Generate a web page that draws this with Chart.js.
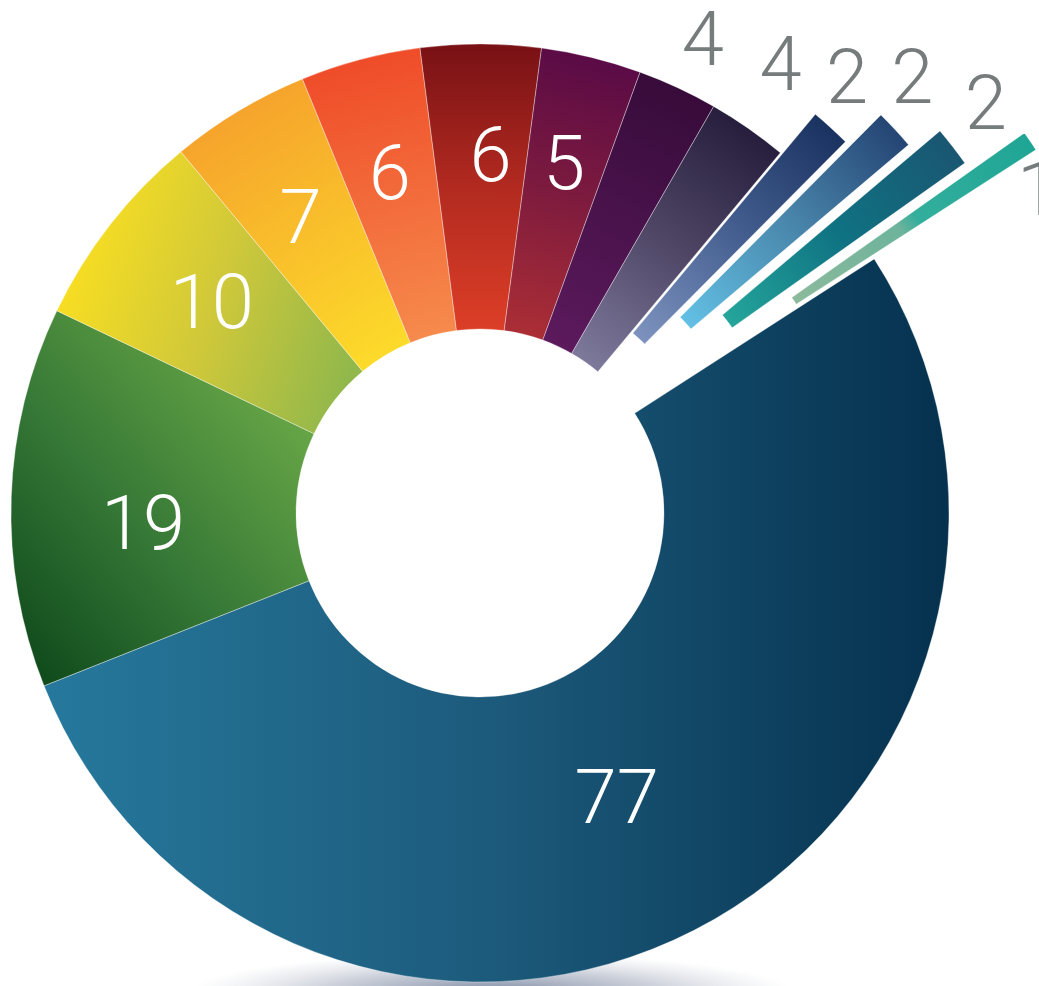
<!DOCTYPE html>
<html>
<head>
<meta charset="utf-8">
<style>
  html, body { margin: 0; padding: 0; background: #ffffff; }
  #wrap { width: 1039px; height: 986px; position: relative; overflow: hidden; }
  canvas { display: block; }
</style>
<script src="https://cdn.jsdelivr.net/npm/chart.js@4/dist/chart.umd.min.js"></script>
</head>
<body>
<div id="wrap"><canvas id="chart" width="1039" height="986"></canvas></div>
<script>
// ---------- DATA ----------
const categories = ['Category 1', 'Category 2', 'Category 3', 'Category 4', 'Category 5', 'Category 6', 'Category 7',
                    'Category 8', 'Category 9', 'Category 10', 'Category 11', 'Category 12', 'Category 13'];
const values = [77, 19, 10, 7, 6, 6, 5, 4, 4, 2, 2, 2, 1];
const valueLabels = values.map(v => String(v));

// ---------- STYLE ----------
// base (fallback) colours
const baseColors = ['#1b5779', '#3b7a36', '#c9cc38', '#f8bf2b', '#f26a37', '#b02a20', '#7f1a3e',
                    '#481345', '#4f4a6a', '#4a6396', '#4a86ad', '#177a85', '#4fb09b'];
// gradient definitions: mode 'h' = horizontal across ring, 'lin' = fixed line (relative to centre, in radii),
// 'rad' = along slice mid-angle from inner to outer edge
const gradModes = ['h', 'lin', 'lin', 'rad', 'rad', 'rad', 'rad', 'rad', 'rad', 'rad', 'rad', 'rad', 'rad'];
const gradLines = [null, [-0.99, 0.38, -0.36, -0.18], [-0.90, -0.45, -0.30, -0.24], null, null, null, null, null, null, null, null, null, null];
const gradStops = [
  [[0, '#267b9f'], [0.5, '#1d5b7c'], [1, '#05314e']],
  [[0, '#0a4418'], [0.5, '#357736'], [1, '#67a646']],
  [[0, '#f8de22'], [0.5, '#cfc83a'], [1, '#92b84b']],
  [[0, '#fcda2a'], [1, '#f6a42c']],
  [[0, '#f68a4c'], [1, '#ef4c29']],
  [[0, '#dc3e27'], [0.5, '#b22a20'], [1, '#781115']],
  [[0, '#ab2e35'], [0.5, '#7e1b3e'], [1, '#5a0b46']],
  [[0, '#5c1a5d'], [1, '#370b3a']],
  [[0, '#7d799b'], [0.5, '#504767'], [1, '#261e3c']],
  [[0, '#7d92be'], [0.5, '#445f90'], [1, '#1a3260']],
  [[0, '#62c0e4'], [0.5, '#4a87ac'], [1, '#254574']],
  [[0, '#24a59b'], [0.5, '#0f7282'], [1, '#1a5672']],
  [[0, '#8cba9c'], [0.45, '#6db39c'], [0.52, '#33ae9c'], [1, '#1fa595']]
];
// outward displacement (px) of the thin exploded slices
const explode = [0, 0, 0, 0, 0, 0, 0, 0, 0, 52, 96, 129, 195];
// label placement (radius from centre, angular nudge in degrees) and colour
const labelRadius = [314, 337, 342, 347, 353, 359, 361, 525, 541, 571, 615, 652, 646];
const labelNudge = [1.4, -3.5, 0.4, -0.2, 0, 1.6, -0.3, 0.2, -1.1, -2.3, -2.6, -1.35, 3.8];
const labelColors = ['#ffffff', '#ffffff', '#ffffff', '#ffffff', '#ffffff', '#ffffff', '#ffffff',
                     '#767b7b', '#767b7b', '#767b7b', '#767b7b', '#767b7b', '#767b7b'];
const labelFontSize = 76;

function makeGradient(ctx, el, i) {
  const mode = gradModes[i];
  let g;
  if (mode === 'h') {
    g = ctx.createLinearGradient(el.x - el.outerRadius, 0, el.x + el.outerRadius, 0);
  } else if (mode === 'lin') {
    const L = gradLines[i], R = el.outerRadius;
    g = ctx.createLinearGradient(el.x + L[0] * R, el.y + L[1] * R, el.x + L[2] * R, el.y + L[3] * R);
  } else {
    const mid = (el.startAngle + el.endAngle) / 2;
    const c = Math.cos(mid), s = Math.sin(mid);
    g = ctx.createLinearGradient(el.x + c * el.innerRadius, el.y + s * el.innerRadius,
                                 el.x + c * el.outerRadius, el.y + s * el.outerRadius);
  }
  gradStops[i].forEach(st => g.addColorStop(st[0], st[1]));
  return g;
}

const slicePlugin = {
  id: 'slicePainter',
  beforeDatasetsDraw(chart) {
    // soft floor shadow under the ring
    const meta = chart.getDatasetMeta(0);
    const el = meta.data[0];
    if (!el) return;
    const ctx = chart.ctx;
    ctx.save();
    ctx.translate(el.x + 12, el.y + el.outerRadius + 10);
    ctx.scale(1, 0.13);
    const g = ctx.createRadialGradient(0, 0, 0, 0, 0, 300);
    g.addColorStop(0, 'rgba(100,115,145,0.85)');
    g.addColorStop(0.55, 'rgba(140,150,172,0.45)');
    g.addColorStop(1, 'rgba(180,186,200,0)');
    ctx.fillStyle = g;
    ctx.beginPath();
    ctx.arc(0, 0, 300, 0, Math.PI * 2);
    ctx.fill();
    ctx.restore();
  },
  beforeDatasetDraw(chart, args) {
    const ctx = chart.ctx;
    args.meta.data.forEach((el, i) => {
      const d = explode[i] || 0;
      const mid = (el.startAngle + el.endAngle) / 2;
      const saved = el.options;
      el.options = Object.assign({}, saved, { backgroundColor: makeGradient(ctx, el, i) });
      ctx.save();
      ctx.translate(Math.cos(mid) * d, Math.sin(mid) * d);
      el.draw(ctx, chart.chartArea);
      ctx.restore();
      el.options = saved;
    });
    return false;
  },
  afterDatasetsDraw(chart) {
    const ctx = chart.ctx;
    const meta = chart.getDatasetMeta(0);
    ctx.save();
    ctx.font = '300 ' + labelFontSize + 'px Roboto, "Open Sans", "Liberation Sans", sans-serif';
    ctx.textAlign = 'center';
    ctx.textBaseline = 'alphabetic';
    const capHalf = labelFontSize * 0.711 / 2;
    meta.data.forEach((el, i) => {
      const a = (el.startAngle + el.endAngle) / 2 + labelNudge[i] * Math.PI / 180;
      const x = el.x + Math.cos(a) * labelRadius[i];
      const y = el.y + Math.sin(a) * labelRadius[i];
      ctx.fillStyle = labelColors[i];
      ctx.fillText(valueLabels[i], x, y + capHalf);
    });
    ctx.restore();
  }
};

new Chart(document.getElementById('chart'), {
  type: 'doughnut',
  data: {
    labels: categories,
    datasets: [{
      data: values,
      backgroundColor: baseColors,
      borderColor: 'rgba(255,255,255,0.35)',
      borderWidth: 1
    }]
  },
  options: {
    responsive: false,
    animation: false,
    events: [],
    rotation: 57.2,
    radius: 469,
    cutout: '39.23%',
    layout: { padding: { left: 0, right: 79, top: 40, bottom: 0 } },
    plugins: { legend: { display: false }, tooltip: { enabled: false } }
  },
  plugins: [slicePlugin]
});
</script>
</body>
</html>
